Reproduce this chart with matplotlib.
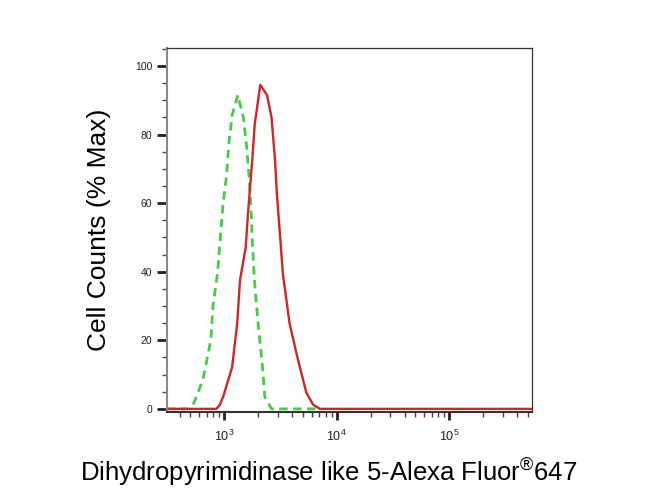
import matplotlib
matplotlib.use("Agg")
import matplotlib.pyplot as plt
from matplotlib.ticker import LogLocator, FixedLocator, MultipleLocator

plt.rcParams['font.family'] = ['Liberation Sans', 'DejaVu Sans']
plt.rcParams['mathtext.fontset'] = 'custom'
plt.rcParams['mathtext.rm'] = 'Liberation Sans'

# sample (red) histogram
red_x = [309, 851, 912, 977, 1175, 1303, 1380, 1549, 1622, 1698, 1778, 1862,
         2089, 2399, 2630, 2818, 2951, 3162, 3311, 3802, 4467, 5370, 6166,
         7079, 537000]
red_y = [0, 0, 1.2, 3.5, 12.2, 25, 37.6, 47, 56.6, 65, 73, 82.8,
         94.5, 91.5, 85, 73, 61.5, 48.7, 39.6, 25, 15, 4.7, 1.2,
         0, 0]

# isotype control (green dashed)
green_x = [309, 479, 537, 646, 759, 794, 871, 912, 977, 1047, 1096, 1175,
           1318, 1479, 1585, 1660, 1738, 1778, 1862, 1995, 2188, 2291, 2630, 7079]
green_y = [0, 0, 1.7, 8.5, 20, 30, 39.6, 48, 60, 68, 77, 85.7,
           91.5, 85, 76, 68, 56.6, 48, 36.7, 25, 12.2, 3.5, 0, 0]

y_ticks = [0, 20, 40, 60, 80, 100]
x_major = [1e3, 1e4, 1e5]

fig = plt.figure(figsize=(6.5, 4.91), dpi=100)
ax = fig.add_axes([0.257, 0.161, 0.561, 0.741])

ax.plot(green_x, green_y, color='#44cc44', lw=2, dashes=(3, 2))
ax.plot(red_x, red_y, color='#cc2626', lw=1.7)

ax.set_xscale('log')
ax.set_xlim(310, 540000)
ax.set_ylim(-0.9, 105.2)

ax.xaxis.set_major_locator(FixedLocator(x_major))
ax.xaxis.set_minor_locator(LogLocator(base=10, subs=range(2, 10)))
ax.yaxis.set_major_locator(FixedLocator(y_ticks))
ax.yaxis.set_minor_locator(MultipleLocator(5))

ax.tick_params(which='major', direction='out', length=6, width=2, labelsize=7.5, colors='#222222')
ax.tick_params(which='minor', direction='out', length=3.5, width=1, colors='#444444')
ax.tick_params(axis='x', which='major', pad=6, labelsize=9)
ax.tick_params(axis='y', which='major', length=7, width=2)

for s in ax.spines.values():
    s.set_color('#333333')
    s.set_linewidth(0.9)
ax.spines['left'].set_color('#888888')
ax.spines['left'].set_linewidth(1.5)
ax.spines['bottom'].set_linewidth(1.5)

ax.set_ylabel('Cell Counts (% Max)', fontsize=19, labelpad=17)
ax.set_xlabel('Dihydropyrimidinase like 5-Alexa Fluor$^{®}$647', fontsize=18.5)
ax.xaxis.set_label_coords(0.444, -0.118)

fig.savefig('out.png', dpi=100)
